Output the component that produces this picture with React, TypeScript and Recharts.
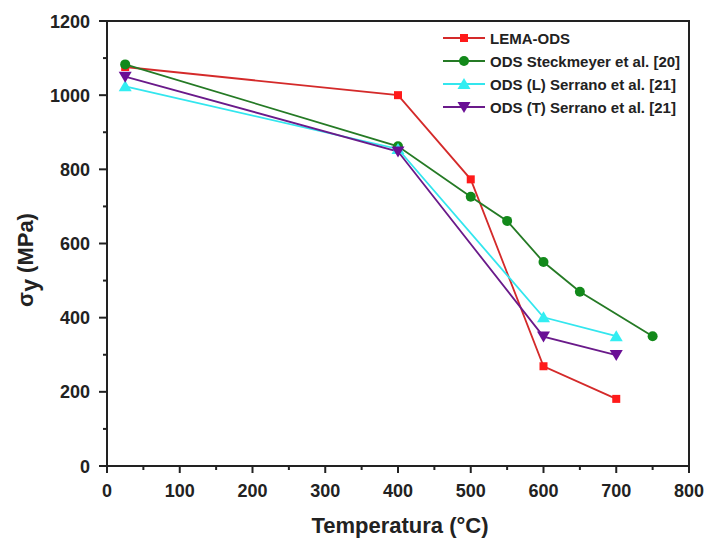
import React from 'react';
import { LineChart, Line, XAxis, YAxis, ReferenceArea, Label } from 'recharts';

// temperatures (°C) and yield strength (MPa) per series
const lemaTemp = [25, 400, 500, 600, 700];
const lemaSigma = [1076, 1000, 773, 269, 181];
const steckTemp = [25, 400, 500, 550, 600, 650, 750];
const steckSigma = [1083, 862, 726, 661, 550, 470, 350];
const serranoLTemp = [25, 400, 600, 700];
const serranoLSigma = [1024, 855, 401, 350];
const serranoTTemp = [25, 400, 600, 700];
const serranoTSigma = [1050, 848, 349, 299];

const xTicks = [0, 50, 100, 150, 200, 250, 300, 350, 400, 450, 500, 550, 600, 650, 700, 750, 800];
const yTicks = [0, 100, 200, 300, 400, 500, 600, 700, 800, 900, 1000, 1100, 1200];

const toRows = (t: number[], s: number[]) => t.map((x, i) => ({ t: x, s: s[i] }));

const series = [
  { name: 'LEMA-ODS', data: toRows(lemaTemp, lemaSigma), line: '#d42a2a', fill: '#ff1a1a', shape: 'square' },
  { name: 'ODS Steckmeyer et al. [20]', data: toRows(steckTemp, steckSigma), line: '#257a25', fill: '#12891a', shape: 'circle' },
  { name: 'ODS (L) Serrano et al. [21]', data: toRows(serranoLTemp, serranoLSigma), line: '#33e6ee', fill: '#33eef2', shape: 'up' },
  { name: 'ODS (T) Serrano et al. [21]', data: toRows(serranoTTemp, serranoTSigma), line: '#6a1a8a', fill: '#6a0f95', shape: 'down' },
];

function Marker({ shape, cx, cy, fill }: { shape: string; cx: number; cy: number; fill: string }) {
  if (shape === 'square') return <rect x={cx - 4} y={cy - 4} width={8} height={8} fill={fill} />;
  if (shape === 'circle') return <circle cx={cx} cy={cy} r={5} fill={fill} />;
  if (shape === 'up') return <path d={`M${cx},${cy - 6} L${cx + 6.5},${cy + 5} L${cx - 6.5},${cy + 5} Z`} fill={fill} />;
  return <path d={`M${cx},${cy + 6} L${cx + 6.5},${cy - 5} L${cx - 6.5},${cy - 5} Z`} fill={fill} />;
}

const font = 'Arial, "Liberation Sans", sans-serif';
const tickFont = { fontFamily: font, fontWeight: 700, fontSize: 18, fill: '#222' };

function XTick(props: any) {
  const { x, y, payload } = props;
  const major = payload.value % 100 === 0;
  return (
    <g>
      <line x1={x} y1={y} x2={x} y2={y + (major ? 7 : 4)} stroke="#222" strokeWidth={2} />
      {major && (
        <text x={x} y={y + 31} textAnchor="middle" {...tickFont}>{payload.value}</text>
      )}
    </g>
  );
}

function YTick(props: any) {
  const { x, y, payload } = props;
  const major = payload.value % 200 === 0;
  return (
    <g>
      <line x1={x} y1={y} x2={x - (major ? 8 : 4)} y2={y} stroke="#222" strokeWidth={2} />
      {major && (
        <text x={x - 17} y={y + 6.5} textAnchor="end" {...tickFont}>{payload.value}</text>
      )}
    </g>
  );
}

function YTitle() {
  return (
    <text transform="translate(33,260) rotate(-90)" textAnchor="middle"
      fontFamily={font} fontWeight={700} fill="#222">
      <tspan fontSize={22}>σ</tspan>
      <tspan fontSize={23} dy={5}>y</tspan>
      <tspan fontSize={22} dy={-5}> (MPa)</tspan>
    </text>
  );
}

function XTitle() {
  return (
    <text x={400} y={533} textAnchor="middle" fontFamily={font}
      fontWeight={700} fontSize={22} fill="#222">Temperatura (°C)</text>
  );
}

export default function App() {
  return (
    <div style={{ position: 'absolute', left: 0, top: 0, width: 704, height: 541, background: '#fff' }}>
      <LineChart width={704} height={541} margin={{ top: 21, right: 15, bottom: 74, left: 106 }}>
        <XAxis type="number" dataKey="t" domain={[0, 800]} ticks={xTicks} interval={0}
          height={1} tickSize={0} tickMargin={0} tickLine={false} tick={<XTick />}
          axisLine={{ stroke: '#222', strokeWidth: 2 }} allowDataOverflow>
          <Label content={<XTitle />} />
        </XAxis>
        <YAxis type="number" domain={[0, 1200]} ticks={yTicks} interval={0}
          width={1} tickSize={0} tickMargin={0} tickLine={false} tick={<YTick />}
          axisLine={{ stroke: '#222', strokeWidth: 2 }} allowDataOverflow>
          <Label content={<YTitle />} />
        </YAxis>
        <ReferenceArea x1={0} x2={800} y1={0} y2={1200} fill="none" stroke="#222" strokeWidth={2} />
        {series.map(s => (
          <Line key={s.name} data={s.data} dataKey="s" name={s.name} stroke={s.line} strokeWidth={1.8}
            isAnimationActive={false}
            dot={(p: any) => <Marker key={p.index} shape={s.shape} cx={p.cx} cy={p.cy} fill={s.fill} />} />
        ))}
      </LineChart>
      {/* legend box, top right inside the frame */}
      <div style={{ position: 'absolute', left: 442, top: 26.5 }}>
        {series.map(s => (
          <div key={s.name} style={{ display: 'flex', alignItems: 'center', height: 23 }}>
            <svg width={44} height={16}>
              <line x1={1} y1={8} x2={43} y2={8} stroke={s.line} strokeWidth={1.8} />
              <Marker shape={s.shape} cx={22} cy={8} fill={s.fill} />
            </svg>
            <span style={{ fontFamily: font, fontWeight: 700, fontSize: 15, color: '#222', marginLeft: 4, whiteSpace: 'nowrap' }}>
              {s.name}
            </span>
          </div>
        ))}
      </div>
    </div>
  );
}
